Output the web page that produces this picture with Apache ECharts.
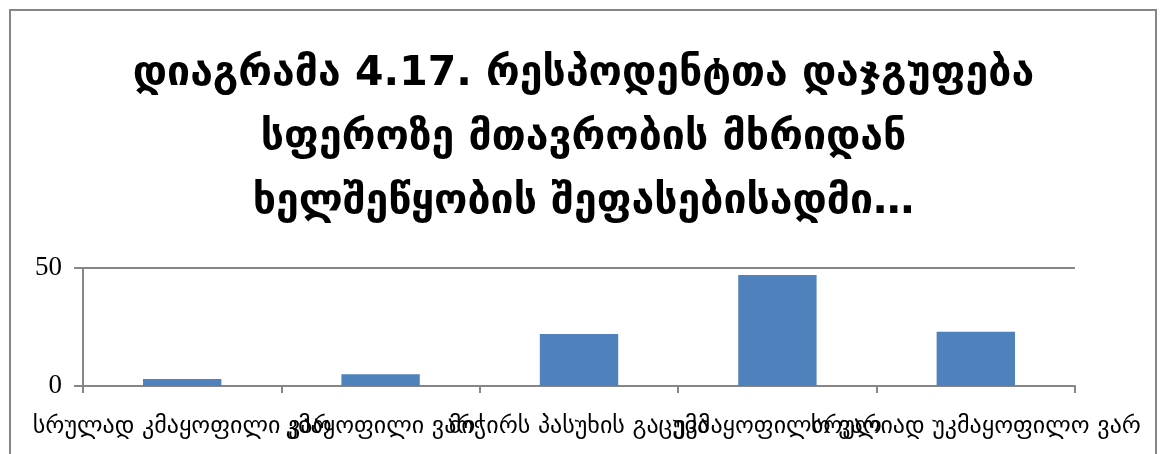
<!DOCTYPE html>
<html>
<head>
<meta charset="utf-8">
<style>
  html, body { margin: 0; padding: 0; background: #fff; }
  #chart { width: 1167px; height: 454px; }
</style>
<script src="https://cdn.jsdelivr.net/npm/echarts@6/dist/echarts.min.js"></script>
</head>
<body>
<div id="chart"></div>
<script>
// Respondent distribution by satisfaction with central government support
const titleLines = [
  'დიაგრამა 4.17. რესპოდენტთა დაჯგუფება',
  'სფეროზე მთავრობის მხრიდან',
  'ხელშეწყობის შეფასებისადმი…'
];
const categories = [
  'სრულად კმაყოფილი ვარ',
  'კმაყოფილი ვარ',
  'მიჭირს პასუხის გაცემა',
  'უკმაყოფილო ვარ',
  'სრულიად უკმაყოფილო ვარ'
];
const values = [3, 5, 22, 47, 23];
const yTicks = [0, 50];

const chart = echarts.init(document.getElementById('chart'), null, { renderer: 'canvas' });
const axisGray = '#868686';

chart.setOption({
  animation: false,
  backgroundColor: '#ffffff',
  graphic: [{
    type: 'rect',
    shape: { x: 10, y: 10, width: 1146, height: 470 },
    style: { fill: 'none', stroke: axisGray, lineWidth: 2 },
    silent: true
  }],
  title: {
    text: titleLines.join('\n'),
    left: 'center',
    top: 37,
    textStyle: {
      fontFamily: 'DejaVu Sans',
      fontWeight: 'bold',
      fontSize: 41,
      lineHeight: 64,
      color: '#000'
    }
  },
  grid: { left: 83, right: 92, top: 268, bottom: 68, containLabel: false },
  xAxis: {
    type: 'category',
    data: categories,
    axisLine: { show: true, lineStyle: { color: axisGray, width: 2 } },
    axisTick: { show: true, alignWithLabel: false, length: 7, lineStyle: { color: axisGray, width: 2 } },
    axisLabel: {
      interval: 0,
      hideOverlap: false,
      margin: 29,
      fontFamily: 'DejaVu Sans',
      fontSize: 24,
      color: '#000'
    }
  },
  yAxis: {
    type: 'value',
    min: yTicks[0],
    max: yTicks[yTicks.length - 1],
    interval: yTicks[1] - yTicks[0],
    axisLine: { show: true, lineStyle: { color: axisGray, width: 2 } },
    axisTick: { show: true, length: 9, lineStyle: { color: axisGray, width: 2 } },
    splitLine: { show: true, lineStyle: { color: axisGray, width: 2 } },
    axisLabel: {
      margin: 21,
      fontFamily: 'Liberation Serif',
      fontSize: 27,
      color: '#000'
    }
  },
  series: [{
    type: 'bar',
    data: values,
    barWidth: '39.5%',
    itemStyle: { color: '#4F81BD' }
  }]
});
</script>
</body>
</html>
